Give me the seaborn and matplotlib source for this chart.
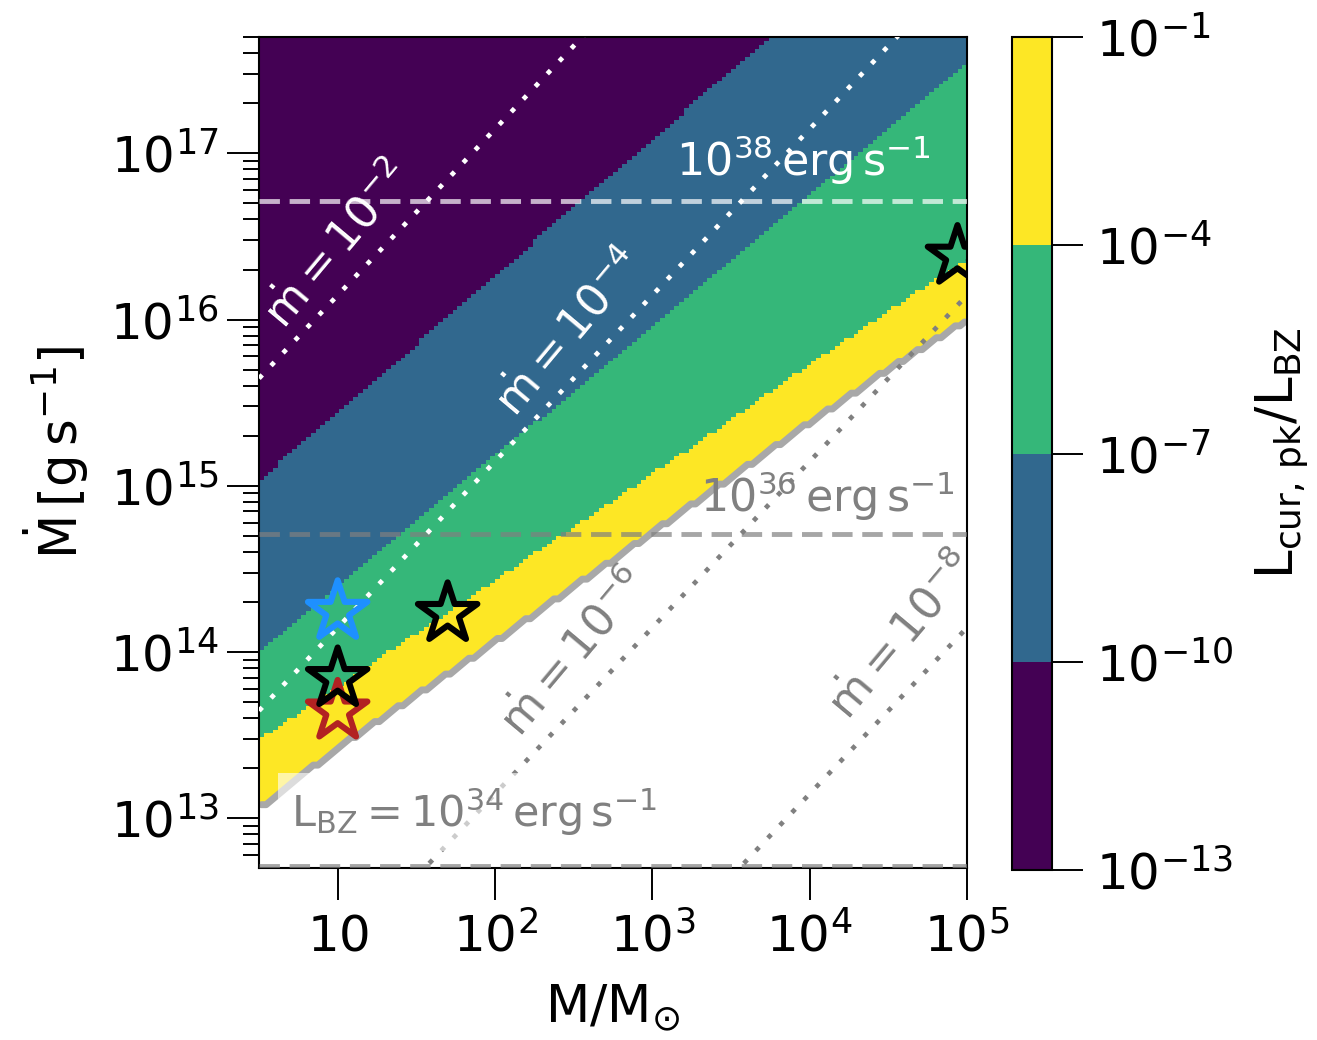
import numpy as np
import matplotlib
matplotlib.use("Agg")
import matplotlib.pyplot as plt
import seaborn as sns
from matplotlib.colors import ListedColormap, BoundaryNorm

# ---------------------------------------------------------------
# Contour boundaries of log10(L_cur,pk / L_BZ) in the (M, Mdot) plane,
# given as log10(Mdot [g/s]) sampled at log10(M/Msun)
# ---------------------------------------------------------------
log_mass_nodes = [0.5, 1.0, 1.5, 2.0, 2.5, 3.0, 3.5, 4.0, 4.5, 5.0]
edge_valid = [13.06, 13.42, 13.74, 14.06, 14.39, 14.72, 15.05, 15.38, 15.70, 16.00]
edge_1e4 = [13.47, 13.79, 14.11, 14.43, 14.75, 15.07, 15.40, 15.73, 16.05, 16.36]
edge_1e7 = [14.00, 14.40, 14.79, 15.18, 15.57, 15.96, 16.36, 16.75, 17.14, 17.54]
edge_1e10 = [15.03, 15.44, 15.85, 16.26, 16.68, 17.08, 17.50, 17.91, 18.32, 18.73]

ratio_levels = [-13, -10, -7, -4, -1]          # log10 contour levels
ratio_labels = ["$10^{-13}$", "$10^{-10}$", "$10^{-7}$", "$10^{-4}$", "$10^{-1}$"]

# Dimensionless accretion-rate lines, mdot = Mdot / Mdot_Edd
mdot_values = [1e-2, 1e-4, 1e-6, 1e-8]
mdot_edd_per_msun = 1.4e17                       # g/s per solar mass (L_Edd / c^2)

# Constant jet-power lines
lbz_values = [1e38, 1e36, 1e34]                  # erg/s
lbz_per_mdot = 1.94e21                           # erg/g

# Observed sources
star_mass = [10, 10, 10, 50, 8.7e4]
star_mdot = [1.75e14, 4.4e13, 6.9e13, 1.7e14, 2.4e16]
star_color = ["#1e90ff", "#b22222", "black", "black", "black"]

x_lim = (10 ** 0.5, 1e5)
y_lim = (10 ** 12.7, 10 ** 17.7)

# ---------------------------------------------------------------
sns.set_style("ticks")
plt.rcParams.update({
    "font.family": ["DejaVu Sans"],
    "mathtext.fontset": "dejavusans",
    "axes.edgecolor": "black",
    "axes.labelcolor": "black",
    "text.color": "black",
    "xtick.color": "black",
    "ytick.color": "black",
    "axes.linewidth": 1.5,
})

fig = plt.figure(figsize=(13.17, 10.40), dpi=100)
ax = fig.add_axes([259 / 1317, 172 / 1040, 708 / 1317, 831 / 1040])
cax = fig.add_axes([1012 / 1317, 170 / 1040, 40 / 1317, 833 / 1040])

# grid of cells in log space
lm_edges = np.linspace(np.log10(x_lim[0]), np.log10(x_lim[1]), 151)
lmd_edges = np.linspace(np.log10(y_lim[0]), np.log10(y_lim[1]), 211)
lm_c = 0.5 * (lm_edges[1:] + lm_edges[:-1])
lmd_c = 0.5 * (lmd_edges[1:] + lmd_edges[:-1])

g = np.interp(lm_c, log_mass_nodes, edge_valid)
b4 = np.interp(lm_c, log_mass_nodes, edge_1e4)
b7 = np.interp(lm_c, log_mass_nodes, edge_1e7)
b10 = np.interp(lm_c, log_mass_nodes, edge_1e10)

field = np.empty((lmd_c.size, lm_c.size))
for i in range(lm_c.size):
    field[:, i] = np.interp(lmd_c, [g[i], b4[i], b7[i], b10[i], b10[i] + 3],
                            [-2.0, -4.0, -7.0, -10.0, -12.5])
field = np.ma.masked_where(lmd_c[:, None] < g[None, :], field)

cmap = ListedColormap(plt.cm.viridis(np.linspace(0, 1, 4)))
norm = BoundaryNorm(ratio_levels, 4)
mesh = ax.pcolormesh(10 ** lm_edges, 10 ** lmd_edges, field, cmap=cmap, norm=norm,
                     shading="flat", rasterized=True, zorder=0)

# lower edge of the valid region
idx = np.searchsorted(lmd_c, g)
edge_y = lmd_edges[idx]
sns.lineplot(x=10 ** lm_c, y=10 ** edge_y, ax=ax, color="#a8a8a8", lw=5.0,
             sort=False, zorder=2)

# constant L_BZ lines
for L, col, alp in zip(lbz_values, ["white", "gray", "gray"], [0.7, 0.7, 0.7]):
    ax.axhline(L / lbz_per_mdot, color=col, alpha=alp, lw=3.5,
               linestyle=(0, (4.2, 2.0)), zorder=3)

# mdot lines
m_line = np.array(x_lim)
for md, col in zip(mdot_values, ["white", "white", "gray", "gray"]):
    sns.lineplot(x=m_line, y=md * mdot_edd_per_msun * m_line, ax=ax, color=col,
                 lw=3.4, linestyle=(0, (1, 2.7)), zorder=4)

ax.set_xscale("log")
ax.set_yscale("log")
ax.set_xlim(*x_lim)
ax.set_ylim(*y_lim)

# annotations
tsize = 32
ax.text(10, 2.8e16, r"$\mathrm{\dot{m}=10^{-2}}$", color="white", fontsize=tsize,
        rotation=50, ha="center", va="center", zorder=5)
ax.text(300, 8.3e15, r"$\mathrm{\dot{m}=10^{-4}}$", color="white", fontsize=tsize,
        rotation=50, ha="center", va="center", zorder=5)
ax.text(321, 9.9e13, r"$\mathrm{\dot{m}=10^{-6}}$", color="gray", fontsize=tsize,
        rotation=50, ha="center", va="center", zorder=5)
ax.text(3.9e4, 1.25e14, r"$\mathrm{\dot{m}=10^{-8}}$", color="gray", fontsize=tsize,
        rotation=50, ha="center", va="center", zorder=5)
ax.text(9.2e3, 9.1e16, r"$\mathrm{10^{38}\,erg\,s^{-1}}$", color="white", fontsize=tsize,
        ha="center", va="center", zorder=3.5)
ax.text(1.3e4, 8.7e14, r"$\mathrm{10^{36}\,erg\,s^{-1}}$", color="gray", fontsize=tsize,
        ha="center", va="center", zorder=5)
ax.text(73, 1.09e13, r"$\mathrm{L_{BZ}=10^{34}\,erg\,s^{-1}}$", color="gray",
        fontsize=31, ha="center", va="center", zorder=5,
        bbox=dict(boxstyle="square,pad=0.3", fc="white", ec="none", alpha=0.6))

# sources
for m, md, c in zip(star_mass, star_mdot, star_color):
    ax.scatter([m], [md], marker="*", s=45 ** 2, facecolors="none", edgecolors=c,
               linewidths=4.4, zorder=6, clip_on=True)

# axes formatting
ax.set_xticks([10, 1e2, 1e3, 1e4, 1e5])
ax.set_xticklabels(["$10$", "$10^2$", "$10^3$", "$10^4$", "$10^5$"])
ax.tick_params(which="major", direction="out", length=23, width=1.4,
               labelsize=36, pad=6)
ax.tick_params(axis="x", which="major", pad=9)
ax.tick_params(which="minor", direction="out", length=11.5, width=1.4)
ax.set_xlabel(r"$\mathrm{M/M_{\odot}}$", fontsize=37, labelpad=14)
ax.set_ylabel(r"$\mathrm{\dot{M}\,[g\,s^{-1}]}$", fontsize=37, labelpad=14)

cb = fig.colorbar(mesh, cax=cax, ticks=ratio_levels)
cb.ax.set_yticklabels(ratio_labels)
cb.ax.tick_params(length=22, width=1.4, labelsize=36, pad=10, direction="out")
cb.outline.set_linewidth(1.5)
cb.set_label(r"$\mathrm{L_{cur,\,pk}/L_{BZ}}$", fontsize=37, labelpad=14)

fig.savefig("out.png", dpi=100)
